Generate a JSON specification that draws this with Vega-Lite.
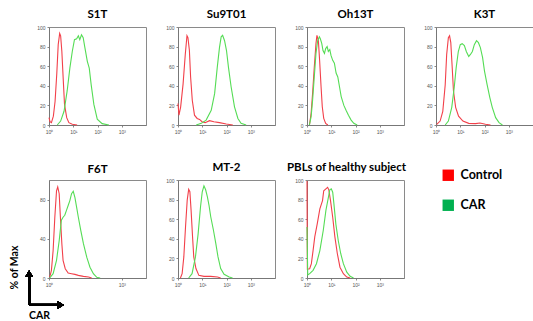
{
  "$schema": "https://vega.github.io/schema/vega-lite/v6.json",
  "padding": {"left": 8, "top": 8, "right": 0, "bottom": 0},
  "bounds": "flush",
  "spacing": {"row": 55, "column": 32},
  "columns": 4,
  "datasets": {
    "flow": [
      {"panel":"S1T","group":"Control","logx":0,"pct":7.5},{"panel":"S1T","group":"Control","logx":0.04,"pct":3.4},{"panel":"S1T","group":"Control","logx":0.1,"pct":2.5},{"panel":"S1T","group":"Control","logx":0.18,"pct":9},{"panel":"S1T","group":"Control","logx":0.25,"pct":24},{"panel":"S1T","group":"Control","logx":0.32,"pct":52},{"panel":"S1T","group":"Control","logx":0.38,"pct":82},{"panel":"S1T","group":"Control","logx":0.44,"pct":93.5},{"panel":"S1T","group":"Control","logx":0.48,"pct":91},{"panel":"S1T","group":"Control","logx":0.53,"pct":75},{"panel":"S1T","group":"Control","logx":0.59,"pct":45},{"panel":"S1T","group":"Control","logx":0.64,"pct":21},{"panel":"S1T","group":"Control","logx":0.73,"pct":7.5},{"panel":"S1T","group":"Control","logx":0.82,"pct":2.4},{"panel":"S1T","group":"Control","logx":0.96,"pct":0.7},{"panel":"S1T","group":"Control","logx":1.16,"pct":0},
      {"panel":"S1T","group":"CAR","logx":0.34,"pct":0},{"panel":"S1T","group":"CAR","logx":0.48,"pct":4},{"panel":"S1T","group":"CAR","logx":0.62,"pct":14},{"panel":"S1T","group":"CAR","logx":0.75,"pct":35},{"panel":"S1T","group":"CAR","logx":0.86,"pct":58},{"panel":"S1T","group":"CAR","logx":0.96,"pct":75},{"panel":"S1T","group":"CAR","logx":1.05,"pct":87},{"panel":"S1T","group":"CAR","logx":1.14,"pct":88},{"panel":"S1T","group":"CAR","logx":1.21,"pct":91},{"panel":"S1T","group":"CAR","logx":1.27,"pct":87},{"panel":"S1T","group":"CAR","logx":1.34,"pct":92},{"panel":"S1T","group":"CAR","logx":1.41,"pct":89},{"panel":"S1T","group":"CAR","logx":1.48,"pct":79},{"panel":"S1T","group":"CAR","logx":1.58,"pct":65},{"panel":"S1T","group":"CAR","logx":1.66,"pct":58},{"panel":"S1T","group":"CAR","logx":1.74,"pct":41},{"panel":"S1T","group":"CAR","logx":1.85,"pct":21},{"panel":"S1T","group":"CAR","logx":1.99,"pct":6},{"panel":"S1T","group":"CAR","logx":2.19,"pct":1.4},{"panel":"S1T","group":"CAR","logx":2.47,"pct":0},

      {"panel":"Su9T01","group":"Control","logx":0,"pct":22},{"panel":"Su9T01","group":"Control","logx":0.04,"pct":10},{"panel":"Su9T01","group":"Control","logx":0.11,"pct":18.5},{"panel":"Su9T01","group":"Control","logx":0.21,"pct":42},{"panel":"Su9T01","group":"Control","logx":0.3,"pct":72},{"panel":"Su9T01","group":"Control","logx":0.37,"pct":91},{"panel":"Su9T01","group":"Control","logx":0.41,"pct":89},{"panel":"Su9T01","group":"Control","logx":0.47,"pct":76},{"panel":"Su9T01","group":"Control","logx":0.52,"pct":49},{"panel":"Su9T01","group":"Control","logx":0.59,"pct":25},{"panel":"Su9T01","group":"Control","logx":0.68,"pct":10},{"panel":"Su9T01","group":"Control","logx":0.79,"pct":6.7},{"panel":"Su9T01","group":"Control","logx":0.89,"pct":5.7},{"panel":"Su9T01","group":"Control","logx":0.99,"pct":3.4},{"panel":"Su9T01","group":"Control","logx":1.12,"pct":2.4},{"panel":"Su9T01","group":"Control","logx":1.3,"pct":4.4},{"panel":"Su9T01","group":"Control","logx":1.48,"pct":3.4},{"panel":"Su9T01","group":"Control","logx":1.71,"pct":2.4},{"panel":"Su9T01","group":"Control","logx":1.99,"pct":1},{"panel":"Su9T01","group":"Control","logx":2.26,"pct":0},
      {"panel":"Su9T01","group":"CAR","logx":0.75,"pct":0},{"panel":"Su9T01","group":"CAR","logx":0.96,"pct":1.7},{"panel":"Su9T01","group":"CAR","logx":1.16,"pct":5},{"panel":"Su9T01","group":"CAR","logx":1.37,"pct":15},{"panel":"Su9T01","group":"CAR","logx":1.51,"pct":32},{"panel":"Su9T01","group":"CAR","logx":1.62,"pct":59},{"panel":"Su9T01","group":"CAR","logx":1.71,"pct":79},{"panel":"Su9T01","group":"CAR","logx":1.78,"pct":90},{"panel":"Su9T01","group":"CAR","logx":1.84,"pct":91.5},{"panel":"Su9T01","group":"CAR","logx":1.92,"pct":86},{"panel":"Su9T01","group":"CAR","logx":2.0,"pct":76},{"panel":"Su9T01","group":"CAR","logx":2.08,"pct":59},{"panel":"Su9T01","group":"CAR","logx":2.19,"pct":39},{"panel":"Su9T01","group":"CAR","logx":2.33,"pct":18.5},{"panel":"Su9T01","group":"CAR","logx":2.47,"pct":6.7},{"panel":"Su9T01","group":"CAR","logx":2.6,"pct":1.7},{"panel":"Su9T01","group":"CAR","logx":2.81,"pct":0},

      {"panel":"Oh13T","group":"Control","logx":0.1,"pct":0},{"panel":"Oh13T","group":"Control","logx":0.17,"pct":12},{"panel":"Oh13T","group":"Control","logx":0.23,"pct":32},{"panel":"Oh13T","group":"Control","logx":0.3,"pct":59},{"panel":"Oh13T","group":"Control","logx":0.37,"pct":83},{"panel":"Oh13T","group":"Control","logx":0.41,"pct":91.5},{"panel":"Oh13T","group":"Control","logx":0.47,"pct":86},{"panel":"Oh13T","group":"Control","logx":0.52,"pct":66},{"panel":"Oh13T","group":"Control","logx":0.58,"pct":39},{"panel":"Oh13T","group":"Control","logx":0.63,"pct":18.6},{"panel":"Oh13T","group":"Control","logx":0.69,"pct":6.8},{"panel":"Oh13T","group":"Control","logx":0.77,"pct":1.7},{"panel":"Oh13T","group":"Control","logx":0.86,"pct":0},
      {"panel":"Oh13T","group":"CAR","logx":0.1,"pct":0},{"panel":"Oh13T","group":"CAR","logx":0.17,"pct":8.5},{"panel":"Oh13T","group":"CAR","logx":0.23,"pct":25},{"panel":"Oh13T","group":"CAR","logx":0.3,"pct":49},{"panel":"Oh13T","group":"CAR","logx":0.37,"pct":73},{"panel":"Oh13T","group":"CAR","logx":0.44,"pct":86},{"panel":"Oh13T","group":"CAR","logx":0.51,"pct":90},{"panel":"Oh13T","group":"CAR","logx":0.55,"pct":88},{"panel":"Oh13T","group":"CAR","logx":0.61,"pct":83},{"panel":"Oh13T","group":"CAR","logx":0.66,"pct":76},{"panel":"Oh13T","group":"CAR","logx":0.72,"pct":73},{"panel":"Oh13T","group":"CAR","logx":0.77,"pct":78},{"panel":"Oh13T","group":"CAR","logx":0.83,"pct":80},{"panel":"Oh13T","group":"CAR","logx":0.88,"pct":75},{"panel":"Oh13T","group":"CAR","logx":0.94,"pct":77},{"panel":"Oh13T","group":"CAR","logx":0.99,"pct":71},{"panel":"Oh13T","group":"CAR","logx":1.06,"pct":66},{"panel":"Oh13T","group":"CAR","logx":1.13,"pct":63},{"panel":"Oh13T","group":"CAR","logx":1.2,"pct":53},{"panel":"Oh13T","group":"CAR","logx":1.27,"pct":49},{"panel":"Oh13T","group":"CAR","logx":1.34,"pct":39},{"panel":"Oh13T","group":"CAR","logx":1.41,"pct":29},{"panel":"Oh13T","group":"CAR","logx":1.52,"pct":20},{"panel":"Oh13T","group":"CAR","logx":1.61,"pct":15},{"panel":"Oh13T","group":"CAR","logx":1.71,"pct":10},{"panel":"Oh13T","group":"CAR","logx":1.82,"pct":5},{"panel":"Oh13T","group":"CAR","logx":1.93,"pct":1.7},{"panel":"Oh13T","group":"CAR","logx":2.07,"pct":0},

      {"panel":"K3T","group":"Control","logx":0.03,"pct":0.7},{"panel":"K3T","group":"Control","logx":0.17,"pct":4},{"panel":"K3T","group":"Control","logx":0.28,"pct":14},{"panel":"K3T","group":"Control","logx":0.38,"pct":41},{"panel":"K3T","group":"Control","logx":0.44,"pct":72},{"panel":"K3T","group":"Control","logx":0.51,"pct":89},{"panel":"K3T","group":"Control","logx":0.56,"pct":91},{"panel":"K3T","group":"Control","logx":0.61,"pct":84},{"panel":"K3T","group":"Control","logx":0.67,"pct":58},{"panel":"K3T","group":"Control","logx":0.72,"pct":35},{"panel":"K3T","group":"Control","logx":0.81,"pct":18},{"panel":"K3T","group":"Control","logx":0.93,"pct":9},{"panel":"K3T","group":"Control","logx":1.11,"pct":4},{"panel":"K3T","group":"Control","logx":1.35,"pct":1.7},{"panel":"K3T","group":"Control","logx":1.63,"pct":1.4},{"panel":"K3T","group":"Control","logx":1.81,"pct":2},{"panel":"K3T","group":"Control","logx":2.04,"pct":0.7},{"panel":"K3T","group":"Control","logx":2.25,"pct":0},
      {"panel":"K3T","group":"CAR","logx":0.38,"pct":0},{"panel":"K3T","group":"CAR","logx":0.51,"pct":4},{"panel":"K3T","group":"CAR","logx":0.65,"pct":18},{"panel":"K3T","group":"CAR","logx":0.75,"pct":38},{"panel":"K3T","group":"CAR","logx":0.83,"pct":58},{"panel":"K3T","group":"CAR","logx":0.92,"pct":75},{"panel":"K3T","group":"CAR","logx":1.0,"pct":82},{"panel":"K3T","group":"CAR","logx":1.08,"pct":83},{"panel":"K3T","group":"CAR","logx":1.17,"pct":81},{"panel":"K3T","group":"CAR","logx":1.25,"pct":75},{"panel":"K3T","group":"CAR","logx":1.35,"pct":70},{"panel":"K3T","group":"CAR","logx":1.42,"pct":72},{"panel":"K3T","group":"CAR","logx":1.5,"pct":75},{"panel":"K3T","group":"CAR","logx":1.58,"pct":82},{"panel":"K3T","group":"CAR","logx":1.67,"pct":86},{"panel":"K3T","group":"CAR","logx":1.75,"pct":84},{"panel":"K3T","group":"CAR","logx":1.83,"pct":79},{"panel":"K3T","group":"CAR","logx":1.92,"pct":69},{"panel":"K3T","group":"CAR","logx":2.0,"pct":55},{"panel":"K3T","group":"CAR","logx":2.11,"pct":41},{"panel":"K3T","group":"CAR","logx":2.22,"pct":28},{"panel":"K3T","group":"CAR","logx":2.32,"pct":18},{"panel":"K3T","group":"CAR","logx":2.46,"pct":7.5},{"panel":"K3T","group":"CAR","logx":2.6,"pct":2.4},{"panel":"K3T","group":"CAR","logx":2.74,"pct":0},

      {"panel":"F6T","group":"Control","logx":0.03,"pct":1},{"panel":"F6T","group":"Control","logx":0.1,"pct":7.8},{"panel":"F6T","group":"Control","logx":0.17,"pct":28},{"panel":"F6T","group":"Control","logx":0.24,"pct":62},{"panel":"F6T","group":"Control","logx":0.31,"pct":89},{"panel":"F6T","group":"Control","logx":0.36,"pct":93},{"panel":"F6T","group":"Control","logx":0.42,"pct":86},{"panel":"F6T","group":"Control","logx":0.47,"pct":62},{"panel":"F6T","group":"Control","logx":0.53,"pct":35},{"panel":"F6T","group":"Control","logx":0.58,"pct":18},{"panel":"F6T","group":"Control","logx":0.67,"pct":9.5},{"panel":"F6T","group":"Control","logx":0.79,"pct":5},{"panel":"F6T","group":"Control","logx":0.93,"pct":4.4},{"panel":"F6T","group":"Control","logx":1.07,"pct":3.7},{"panel":"F6T","group":"Control","logx":1.21,"pct":2.7},{"panel":"F6T","group":"Control","logx":1.42,"pct":1.7},{"panel":"F6T","group":"Control","logx":1.63,"pct":1},{"panel":"F6T","group":"Control","logx":1.76,"pct":0},
      {"panel":"F6T","group":"CAR","logx":0.03,"pct":0},{"panel":"F6T","group":"CAR","logx":0.17,"pct":4.4},{"panel":"F6T","group":"CAR","logx":0.31,"pct":18},{"panel":"F6T","group":"CAR","logx":0.42,"pct":38},{"panel":"F6T","group":"CAR","logx":0.51,"pct":59},{"panel":"F6T","group":"CAR","logx":0.58,"pct":62},{"panel":"F6T","group":"CAR","logx":0.65,"pct":64},{"panel":"F6T","group":"CAR","logx":0.72,"pct":69},{"panel":"F6T","group":"CAR","logx":0.79,"pct":74},{"panel":"F6T","group":"CAR","logx":0.86,"pct":79},{"panel":"F6T","group":"CAR","logx":0.93,"pct":86},{"panel":"F6T","group":"CAR","logx":1.0,"pct":88.5},{"panel":"F6T","group":"CAR","logx":1.07,"pct":82},{"panel":"F6T","group":"CAR","logx":1.14,"pct":72},{"panel":"F6T","group":"CAR","logx":1.21,"pct":62},{"panel":"F6T","group":"CAR","logx":1.31,"pct":48.5},{"panel":"F6T","group":"CAR","logx":1.42,"pct":35},{"panel":"F6T","group":"CAR","logx":1.56,"pct":21},{"panel":"F6T","group":"CAR","logx":1.69,"pct":11},{"panel":"F6T","group":"CAR","logx":1.83,"pct":4.4},{"panel":"F6T","group":"CAR","logx":1.97,"pct":0.7},{"panel":"F6T","group":"CAR","logx":2.11,"pct":0},

      {"panel":"MT-2","group":"Control","logx":0.1,"pct":0},{"panel":"MT-2","group":"Control","logx":0.17,"pct":4.4},{"panel":"MT-2","group":"Control","logx":0.24,"pct":21.5},{"panel":"MT-2","group":"Control","logx":0.31,"pct":52},{"panel":"MT-2","group":"Control","logx":0.38,"pct":79.5},{"panel":"MT-2","group":"Control","logx":0.44,"pct":90.4},{"panel":"MT-2","group":"Control","logx":0.49,"pct":88},{"panel":"MT-2","group":"Control","logx":0.54,"pct":69},{"panel":"MT-2","group":"Control","logx":0.6,"pct":42},{"panel":"MT-2","group":"Control","logx":0.65,"pct":21.5},{"panel":"MT-2","group":"Control","logx":0.74,"pct":9.6},{"panel":"MT-2","group":"Control","logx":0.86,"pct":2.7},{"panel":"MT-2","group":"Control","logx":1.07,"pct":1.7},{"panel":"MT-2","group":"Control","logx":1.35,"pct":1.7},{"panel":"MT-2","group":"Control","logx":1.63,"pct":1},{"panel":"MT-2","group":"Control","logx":1.76,"pct":0},
      {"panel":"MT-2","group":"CAR","logx":0.44,"pct":0},{"panel":"MT-2","group":"CAR","logx":0.58,"pct":4.4},{"panel":"MT-2","group":"CAR","logx":0.72,"pct":21.5},{"panel":"MT-2","group":"CAR","logx":0.83,"pct":45},{"panel":"MT-2","group":"CAR","logx":0.93,"pct":73},{"panel":"MT-2","group":"CAR","logx":1.0,"pct":88},{"panel":"MT-2","group":"CAR","logx":1.07,"pct":94},{"panel":"MT-2","group":"CAR","logx":1.14,"pct":90},{"panel":"MT-2","group":"CAR","logx":1.21,"pct":83},{"panel":"MT-2","group":"CAR","logx":1.28,"pct":74},{"panel":"MT-2","group":"CAR","logx":1.35,"pct":62.5},{"panel":"MT-2","group":"CAR","logx":1.46,"pct":49},{"panel":"MT-2","group":"CAR","logx":1.56,"pct":35},{"panel":"MT-2","group":"CAR","logx":1.65,"pct":21.5},{"panel":"MT-2","group":"CAR","logx":1.76,"pct":9.6},{"panel":"MT-2","group":"CAR","logx":1.9,"pct":3.8},{"panel":"MT-2","group":"CAR","logx":2.11,"pct":1},{"panel":"MT-2","group":"CAR","logx":2.25,"pct":0},

      {"panel":"PBLs","group":"Control","logx":0,"pct":99},{"panel":"PBLs","group":"Control","logx":0.015,"pct":9},{"panel":"PBLs","group":"Control","logx":0.11,"pct":9.5},{"panel":"PBLs","group":"Control","logx":0.18,"pct":14.6},{"panel":"PBLs","group":"Control","logx":0.25,"pct":28},{"panel":"PBLs","group":"Control","logx":0.32,"pct":42},{"panel":"PBLs","group":"Control","logx":0.42,"pct":55},{"panel":"PBLs","group":"Control","logx":0.53,"pct":70.5},{"panel":"PBLs","group":"Control","logx":0.64,"pct":79},{"panel":"PBLs","group":"Control","logx":0.69,"pct":89},{"panel":"PBLs","group":"Control","logx":0.78,"pct":91},{"panel":"PBLs","group":"Control","logx":0.85,"pct":92.5},{"panel":"PBLs","group":"Control","logx":0.9,"pct":90},{"panel":"PBLs","group":"Control","logx":0.97,"pct":79},{"panel":"PBLs","group":"Control","logx":1.06,"pct":62},{"panel":"PBLs","group":"Control","logx":1.15,"pct":42},{"panel":"PBLs","group":"Control","logx":1.25,"pct":25},{"panel":"PBLs","group":"Control","logx":1.36,"pct":11},{"panel":"PBLs","group":"Control","logx":1.5,"pct":4.4},{"panel":"PBLs","group":"Control","logx":1.64,"pct":1},{"panel":"PBLs","group":"Control","logx":1.78,"pct":0},
      {"panel":"PBLs","group":"CAR","logx":0,"pct":52},{"panel":"PBLs","group":"CAR","logx":0.03,"pct":3},{"panel":"PBLs","group":"CAR","logx":0.11,"pct":4.4},{"panel":"PBLs","group":"CAR","logx":0.25,"pct":7.8},{"panel":"PBLs","group":"CAR","logx":0.39,"pct":14.6},{"panel":"PBLs","group":"CAR","logx":0.53,"pct":28},{"panel":"PBLs","group":"CAR","logx":0.67,"pct":48.5},{"panel":"PBLs","group":"CAR","logx":0.78,"pct":69},{"panel":"PBLs","group":"CAR","logx":0.88,"pct":82},{"panel":"PBLs","group":"CAR","logx":0.94,"pct":90},{"panel":"PBLs","group":"CAR","logx":1.0,"pct":91},{"panel":"PBLs","group":"CAR","logx":1.06,"pct":87.5},{"panel":"PBLs","group":"CAR","logx":1.11,"pct":75.6},{"panel":"PBLs","group":"CAR","logx":1.19,"pct":55},{"panel":"PBLs","group":"CAR","logx":1.29,"pct":38},{"panel":"PBLs","group":"CAR","logx":1.39,"pct":25},{"panel":"PBLs","group":"CAR","logx":1.5,"pct":14.6},{"panel":"PBLs","group":"CAR","logx":1.64,"pct":6},{"panel":"PBLs","group":"CAR","logx":1.78,"pct":1.7},{"panel":"PBLs","group":"CAR","logx":1.92,"pct":0}
    ]
  },
  "data": {"name": "flow"},
  "concat": [
    {
      "title": "S1T", "width": 97, "height": 98,
      "transform": [{"filter": "datum.panel === 'S1T'"}],
      "mark": {"type": "line", "strokeWidth": 1.1},
      "encoding": {
        "x": {"field": "logx", "type": "quantitative", "scale": {"domain": [0, 4]}, "axis": {"title": null, "values": [0, 1, 2, 3], "labelExpr": "'10' + ['⁰','¹','²','³'][datum.value]"}},
        "y": {"field": "pct", "type": "quantitative", "scale": {"domain": [0, 100]}, "axis": {"title": null, "values": [0, 20, 40, 60, 80, 100]}},
        "color": {"field": "group", "type": "nominal", "scale": {"domain": ["Control", "CAR"], "range": ["#f2404a", "#55dc55"]},
          "legend": {"orient": "none", "legendX": 393, "legendY": 142, "title": null, "symbolType": "square", "symbolSize": 130, "symbolStrokeWidth": 0, "labelFont": "Lato", "labelFontSize": 12.5, "labelFontWeight": "bold", "labelColor": "#000", "rowPadding": 17, "labelOffset": 6,
            "encode": {"symbols": {"update": {"fill": {"signal": "datum.value === 'Control' ? '#ff0000' : '#00b050'"}, "stroke": {"value": "transparent"}, "opacity": {"value": 1}}}}}}
      }
    },
    {
      "title": "Su9T01", "width": 97, "height": 98,
      "transform": [{"filter": "datum.panel === 'Su9T01'"}],
      "mark": {"type": "line", "strokeWidth": 1.1},
      "encoding": {
        "x": {"field": "logx", "type": "quantitative", "scale": {"domain": [0, 4]}, "axis": {"title": null, "values": [0, 1, 2, 3], "labelExpr": "'10' + ['⁰','¹','²','³'][datum.value]"}},
        "y": {"field": "pct", "type": "quantitative", "scale": {"domain": [0, 100]}, "axis": {"title": null, "values": [0, 20, 40, 60, 80, 100]}},
        "color": {"field": "group", "type": "nominal"}
      }
    },
    {
      "title": "Oh13T", "width": 97, "height": 98,
      "transform": [{"filter": "datum.panel === 'Oh13T'"}],
      "mark": {"type": "line", "strokeWidth": 1.1},
      "encoding": {
        "x": {"field": "logx", "type": "quantitative", "scale": {"domain": [0, 4]}, "axis": {"title": null, "values": [0, 1, 2, 3], "labelExpr": "'10' + ['⁰','¹','²','³'][datum.value]"}},
        "y": {"field": "pct", "type": "quantitative", "scale": {"domain": [0, 100]}, "axis": {"title": null, "values": [0, 20, 40, 60, 80, 100]}},
        "color": {"field": "group", "type": "nominal"}
      }
    },
    {
      "title": "K3T", "width": 97, "height": 98,
      "transform": [{"filter": "datum.panel === 'K3T'"}],
      "mark": {"type": "line", "strokeWidth": 1.1},
      "encoding": {
        "x": {"field": "logx", "type": "quantitative", "scale": {"domain": [0, 4]}, "axis": {"title": null, "values": [0, 1, 2, 3], "labelExpr": "'10' + ['⁰','¹','²','³'][datum.value]"}},
        "y": {"field": "pct", "type": "quantitative", "scale": {"domain": [0, 100]}, "axis": {"title": null, "values": [0, 20, 40, 60, 80, 100]}},
        "color": {"field": "group", "type": "nominal"}
      }
    },
    {
      "title": "F6T", "width": 97, "height": 98,
      "transform": [{"filter": "datum.panel === 'F6T'"}],
      "layer": [
        {
          "mark": {"type": "line", "strokeWidth": 1.1},
          "encoding": {
            "x": {"field": "logx", "type": "quantitative", "scale": {"domain": [0, 4]}, "axis": {"title": "CAR", "titleFontSize": 10.5, "titleX": -10, "titleY": 37, "titleBaseline": "middle", "titleAlign": "center", "values": [0, 1, 2, 3], "labelExpr": "'10' + ['⁰','¹','²','³'][datum.value]"}},
            "y": {"field": "pct", "type": "quantitative", "scale": {"domain": [0, 100]}, "axis": {"title": "% of Max", "titleFontSize": 10.5, "titleX": -35, "titleY": 87, "titleAngle": -90, "titleBaseline": "middle", "titleAlign": "center", "values": [0, 20, 40, 60, 80, 100]}},
            "color": {"field": "group", "type": "nominal"}
          }
        },
        {
          "mark": {"type": "rule", "color": "#000", "strokeWidth": 2},
          "encoding": {"x": {"datum": -0.82, "type": "quantitative"}, "y": {"datum": -27.5, "type": "quantitative"}, "y2": {"datum": 3}}
        },
        {
          "mark": {"type": "rule", "color": "#000", "strokeWidth": 2},
          "encoding": {"x": {"datum": -0.82, "type": "quantitative"}, "x2": {"datum": 0.4}, "y": {"datum": -27.5, "type": "quantitative"}}
        },
        {
          "mark": {"type": "point", "shape": "triangle-up", "filled": true, "color": "#000", "size": 55, "opacity": 1},
          "encoding": {"x": {"datum": -0.82, "type": "quantitative"}, "y": {"datum": 4.5, "type": "quantitative"}}
        },
        {
          "mark": {"type": "point", "shape": "triangle-right", "filled": true, "color": "#000", "size": 55, "opacity": 1},
          "encoding": {"x": {"datum": 0.48, "type": "quantitative"}, "y": {"datum": -27.5, "type": "quantitative"}}
        }
      ]
    },
    {
      "title": "MT-2", "width": 97, "height": 98,
      "transform": [{"filter": "datum.panel === 'MT-2'"}],
      "mark": {"type": "line", "strokeWidth": 1.1},
      "encoding": {
        "x": {"field": "logx", "type": "quantitative", "scale": {"domain": [0, 4]}, "axis": {"title": null, "values": [0, 1, 2, 3], "labelExpr": "'10' + ['⁰','¹','²','³'][datum.value]"}},
        "y": {"field": "pct", "type": "quantitative", "scale": {"domain": [0, 100]}, "axis": {"title": null, "values": [0, 20, 40, 60, 80, 100]}},
        "color": {"field": "group", "type": "nominal"}
      }
    },
    {
      "title": {"text": "PBLs of healthy  subject", "dx": -9}, "width": 97, "height": 98,
      "transform": [{"filter": "datum.panel === 'PBLs'"}],
      "mark": {"type": "line", "strokeWidth": 1.1},
      "encoding": {
        "x": {"field": "logx", "type": "quantitative", "scale": {"domain": [0, 4]}, "axis": {"title": null, "values": [0, 1, 2, 3], "labelExpr": "'10' + ['⁰','¹','²','³'][datum.value]"}},
        "y": {"field": "pct", "type": "quantitative", "scale": {"domain": [0, 100]}, "axis": {"title": null, "values": [0, 20, 40, 60, 80, 100]}},
        "color": {"field": "group", "type": "nominal"}
      }
    }
  ],
  "config": {
    "view": {"stroke": "#8a8a8a", "strokeWidth": 1},
    "title": {"font": "Lato", "fontSize": 11.5, "fontWeight": "bold", "color": "#000", "offset": 5, "anchor": "middle"},
    "axis": {"labelFont": "Liberation Sans", "labelFontSize": 5, "labelColor": "#555", "labelPadding": 2, "tickSize": 2, "tickColor": "#888", "domainColor": "#777", "grid": false, "labelFlush": false, "titleFont": "Lato", "titleFontSize": 13, "titleFontWeight": "bold", "titleColor": "#000"}
  }
}
